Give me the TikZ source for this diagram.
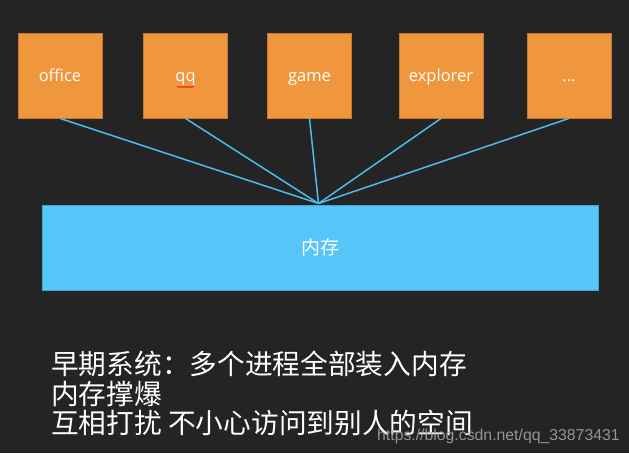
\documentclass[tikz,border=0pt]{standalone}
\usepackage{fontspec}
\setmainfont{Open Sans}
\newfontfamily\cjk{Noto Sans CJK SC}
\newfontfamily\wmfont{Liberation Sans}
\usetikzlibrary{decorations.pathmorphing}
\definecolor{bgc}{HTML}{242424}
\definecolor{orangebox}{HTML}{F0963C}
\definecolor{orangeedge}{HTML}{C8782E}
\definecolor{memblue}{HTML}{55C6F7}
\definecolor{memedge}{HTML}{3AA8D8}
\definecolor{linkblue}{HTML}{4DBCEB}
\definecolor{wmgray}{HTML}{A8A8A8}
\tikzset{
  procbox/.style={draw=orangeedge, line width=0.8pt, fill=orangebox, minimum width=84pt, minimum height=85pt, inner sep=0pt, text height=14pt, text depth=2pt, text=white, font=\fontsize{16.5}{18}\selectfont},
  membox/.style={draw=memedge, line width=0.8pt, fill=memblue, minimum width=556pt, minimum height=85pt, inner sep=0pt, text=white, font=\cjk\fontsize{19}{22}\selectfont},
  link/.style={draw=linkblue, line width=1.5pt},
  note/.style={anchor=base west, inner sep=0pt, text=white, font=\cjk\fontsize{27.7}{29}\selectfont},
}
\begin{document}
\begin{tikzpicture}[x=1pt,y=-1pt]
\fill[bgc] (0,0) rectangle (629,453);
\useasboundingbox (0,0) rectangle (629,453);
\node[procbox] (office) at (60,75.5) {office};
\node[procbox] (qq) at (185.5,75.5) {qq};
\node[procbox] (game) at (309.5,75.5) {game};
\node[procbox] (explorer) at (441,75.5) {explorer};
\node[procbox] (more) at (569,75.5) {...};
\draw[red, line width=0.6pt, decorate, decoration={snake, amplitude=0.6pt, segment length=3pt}] (177,87) -- (194,87);
\node[membox] (mem) at (320,247.5) {内存};
\coordinate (hub) at (318.5,203.5);
\foreach \b in {office,qq,game,explorer,more}{
  \draw[link] (\b.south) -- (hub);
}
\node[note] (l1) at (51,374.5) {早期系统：多个进程全部装入内存};
\node[note] (l2) at (51,404) {内存撑爆};
\node[note] (l3) at (51,433.5) {互相打扰 不小心访问到别人的空间};
\node[anchor=base west, inner sep=0pt, text=wmgray, opacity=0.85, font=\wmfont\fontsize{15.8}{18}\selectfont] (wm) at (377,440) {https://blog.csdn.net/qq\_33873431};
\end{tikzpicture}
\end{document}
